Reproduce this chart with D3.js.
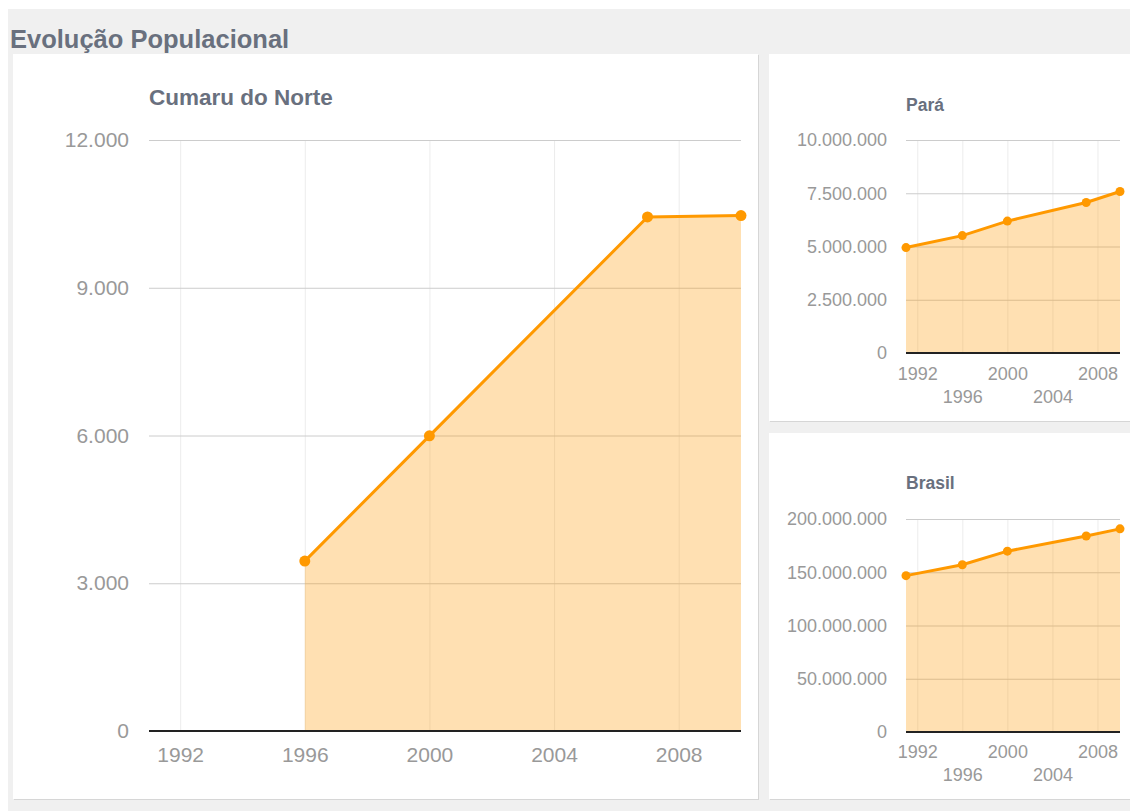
<!DOCTYPE html>
<meta charset="utf-8">
<script src="https://cdnjs.cloudflare.com/ajax/libs/d3/7.8.5/d3.min.js"></script>
<style>
body { margin: 0; background: #fff; font-family: "Liberation Sans", Arial, sans-serif; }
</style>
<body>
<script>
// dados
var anos = [1991, 1996, 2000, 2007, 2010];
var cumaru = [null, 3450, 5993, 10437, 10466];
var para = [4950060, 5510849, 6192307, 7065573, 7581051];
var brasil = [146825475, 157070163, 169799170, 183987291, 190755799];

var anoTicks = [1992, 1996, 2000, 2004, 2008];
var cumaruTicks = [0, 3000, 6000, 9000, 12000];
var paraTicks = [0, 2500000, 5000000, 7500000, 10000000];
var brasilTicks = [0, 50000000, 100000000, 150000000, 200000000];

var w = 1130, h = 811;

var br = d3.formatLocale({decimal: ",", thousands: ".", grouping: [3], currency: ["R$", ""]});
var fmt = br.format(",d");

var svg = d3.select("body").append("svg")
  .attr("width", w)
  .attr("height", h);

// fundo cinza e paineis
svg.append("rect").attr("x", 8).attr("y", 9).attr("width", w - 8).attr("height", 802).attr("fill", "#f0f0f0");

svg.append("text")
  .attr("x", 10).attr("y", 48)
  .style("font-size", "25.5px").style("font-weight", "bold")
  .attr("fill", "#69707e")
  .text("Evolução Populacional");

function painel(x, y, pw, ph) {
  svg.append("rect").attr("x", x + 1).attr("y", y + 1).attr("width", pw).attr("height", ph).attr("fill", "#d6d6d6");
  svg.append("rect").attr("x", x).attr("y", y).attr("width", pw).attr("height", ph).attr("fill", "#fff");
}
painel(13, 54, 745, 745);
painel(769, 54, 370, 367);
painel(769, 433, 370, 366);

function grafico(o) {
  var g = svg.append("g");
  var x = d3.scaleLinear().domain([1991, 2010]).range([o.left, o.right]);
  var y = d3.scaleLinear().domain([0, o.ticks[o.ticks.length - 1]]).range([o.bottom, o.top]);

  g.append("text")
    .attr("x", o.left).attr("y", o.titleY)
    .style("font-size", o.titleSize + "px").style("font-weight", "bold")
    .attr("fill", "#69707e")
    .text(o.title);

  // grade vertical + rotulos dos anos
  var xAxis = g.append("g")
    .attr("transform", "translate(0," + o.bottom + ")")
    .call(d3.axisBottom(x).tickValues(anoTicks).tickSize(-(o.bottom - o.top)).tickFormat(d3.format("d")));
  xAxis.select(".domain").remove();
  xAxis.selectAll("line").attr("stroke", "#ececec");
  xAxis.selectAll("text")
    .attr("fill", "#999").style("font-size", o.fontSize + "px").style("font-family", "Liberation Sans, Arial")
    .attr("y", function(d, i) { return (o.stagger && i % 2 == 1) ? o.labelY2 : o.labelY; })
    .attr("dy", "0");

  // grade horizontal + rotulos dos valores
  var yAxis = g.append("g")
    .attr("transform", "translate(" + o.left + ",0)")
    .call(d3.axisLeft(y).tickValues(o.ticks).tickSize(-(o.right - o.left)).tickPadding(o.pad).tickFormat(fmt));
  yAxis.select(".domain").remove();
  yAxis.selectAll("line").attr("stroke", "#cccccc");
  yAxis.selectAll("text")
    .attr("fill", "#999").style("font-size", o.fontSize + "px").style("font-family", "Liberation Sans, Arial");

  var pts = anos.map(function(a, i) { return {ano: a, v: o.values[i]}; })
    .filter(function(d) { return d.v != null; });

  var area = d3.area()
    .x(function(d) { return x(d.ano); })
    .y0(y(0))
    .y1(function(d) { return y(d.v); });
  g.append("path").datum(pts).attr("d", area)
    .attr("fill", "#ff9900").attr("fill-opacity", 0.3);

  var line = d3.line()
    .x(function(d) { return x(d.ano); })
    .y(function(d) { return y(d.v); });
  g.append("path").datum(pts).attr("d", line)
    .attr("fill", "none").attr("stroke", "#ff9900").attr("stroke-width", o.sw);

  g.selectAll("circle").data(pts).enter().append("circle")
    .attr("cx", function(d) { return x(d.ano); })
    .attr("cy", function(d) { return y(d.v); })
    .attr("r", o.r)
    .attr("fill", "#ff9900");

  g.append("line")
    .attr("x1", o.left).attr("x2", o.right)
    .attr("y1", y(0)).attr("y2", y(0))
    .attr("stroke", "#222").attr("stroke-width", 2);
}

grafico({
  title: "Cumaru do Norte", titleY: 105, titleSize: 22.5,
  left: 149, right: 741, top: 140, bottom: 731,
  values: cumaru, ticks: cumaruTicks,
  fontSize: 21, pad: 20, labelY: 31, stagger: false,
  sw: 3, r: 5.5
});

grafico({
  title: "Pará", titleY: 111, titleSize: 17.5,
  left: 906, right: 1120, top: 140, bottom: 353,
  values: para, ticks: paraTicks,
  fontSize: 18, pad: 19, labelY: 27, labelY2: 50, stagger: true,
  sw: 3, r: 4.5
});

grafico({
  title: "Brasil", titleY: 489, titleSize: 17.5,
  left: 906, right: 1120, top: 519, bottom: 732,
  values: brasil, ticks: brasilTicks,
  fontSize: 18, pad: 19, labelY: 26, labelY2: 49, stagger: true,
  sw: 3, r: 4.5
});
</script>
</body>
</html>
